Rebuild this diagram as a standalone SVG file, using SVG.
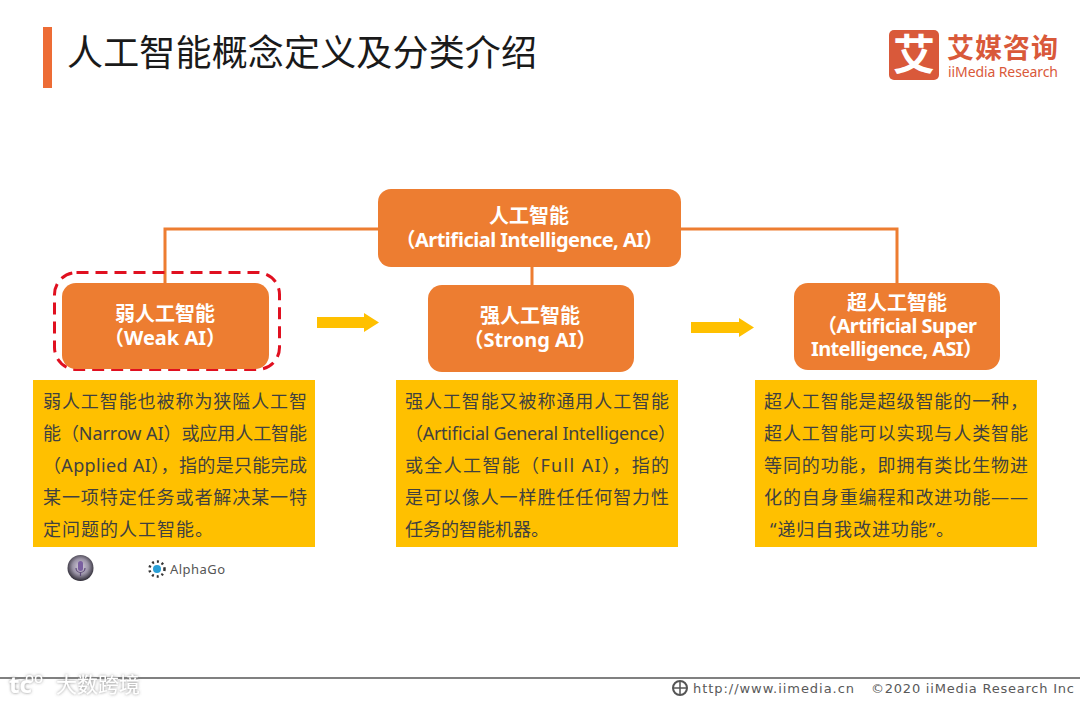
<svg xmlns="http://www.w3.org/2000/svg" width="1080" height="702" viewBox="0 0 1080 702">
<defs>
<radialGradient id="siriG" cx="50%" cy="45%" r="55%"><stop offset="0" stop-color="#d8d0e0"/><stop offset=".55" stop-color="#9a93a6"/><stop offset="1" stop-color="#2d2a34"/></radialGradient>
<filter id="glow" x="-10%" y="-30%" width="120%" height="160%"><feDropShadow dx="0" dy="0" stdDeviation="1.500" flood-color="#777" flood-opacity=".9"/></filter>
</defs>
<style>
text{font-family:"Noto Sans","Noto Sans CJK SC",sans-serif}
.n{fill:#ed7d31}
.nt{fill:#fff;font-size:20px;font-weight:700;text-anchor:middle}
.b{fill:#ffc000}
.bt{fill:#404040;font-size:18px}
.c{fill:none;stroke:#ed7d31;stroke-width:3}
.a{fill:#ffc000}
.f{fill:#595959;font-size:13px;font-family:"DejaVu Sans",sans-serif}
</style>
<rect width="1080" height="702" fill="#fff"/>
<rect x="43" y="27" width="9" height="61" fill="#ed6c35"/>
<text x="67" y="66" font-size="36" fill="#1a1a1a" textLength="470">人工智能概念定义及分类介绍</text>
<g id="logo">
<rect x="889" y="30" width="50" height="50" rx="5" fill="#d9593a"/>
<text x="914" y="70" font-size="42" font-weight="700" fill="#fff" text-anchor="middle">艾</text>
<text x="947" y="58" font-size="27" font-weight="700" fill="#d9593a" textLength="111">艾媒咨询</text>
<text x="948" y="77" font-size="14" fill="#d9593a" textLength="110">iiMedia Research</text>
</g>
<g id="connectors">
<path class="c" d="M165 283V229H378M681 229H897V283M532 267V285"/>
<path class="a" d="M317 317H364V313L379 322.500L364 332V328H317Z"/>
<path class="a" d="M691 322H739V318L754 327.500L739 337V333H691Z"/>
</g>
<g id="root">
<rect class="n" x="378" y="189" width="303" height="78" rx="13"/>
<text class="nt" x="529" y="223">人工智能</text>
<text class="nt" x="529.500" y="247" textLength="268">（Artificial Intelligence, AI）</text>
</g>
<g id="weak">
<rect x="54.500" y="272.500" width="225" height="97" rx="22" fill="none" stroke="#e01020" stroke-width="3" stroke-dasharray="12 7"/>
<rect class="n" x="62" y="283" width="207" height="86" rx="14"/>
<text class="nt" x="165" y="321">弱人工智能</text>
<text class="nt" x="165" y="345">（Weak AI）</text>
<rect class="b" x="33" y="380" width="282" height="167"/>
<g class="bt">
<text x="43" y="408" textLength="264">弱人工智能也被称为狭隘人工智</text>
<text x="43" y="440" textLength="264">能（Narrow AI）或应用人工智能</text>
<text x="43" y="472" textLength="264">（Applied AI），指的是只能完成</text>
<text x="43" y="504" textLength="264">某一项特定任务或者解决某一特</text>
<text x="43" y="536" textLength="170">定问题的人工智能。</text>
</g>
</g>
<g id="strong">
<rect class="n" x="428" y="285" width="206" height="87" rx="14"/>
<text class="nt" x="530" y="323">强人工智能</text>
<text class="nt" x="530" y="347">（Strong AI）</text>
<rect class="b" x="396" y="380" width="282" height="167"/>
<g class="bt">
<text x="405" y="408" textLength="264">强人工智能又被称通用人工智能</text>
<text x="405" y="440" textLength="271">（Artificial General Intelligence）</text>
<text x="405" y="472" textLength="264">或全人工智能（Full AI），指的</text>
<text x="405" y="504" textLength="264">是可以像人一样胜任任何智力性</text>
<text x="405" y="536">任务的智能机器。</text>
</g>
</g>
<g id="super">
<rect class="n" x="794" y="283" width="206" height="87" rx="14"/>
<text class="nt" x="897" y="310">超人工智能</text>
<text class="nt" x="897" y="333" textLength="160">（Artificial Super</text>
<text class="nt" x="897" y="356" textLength="172">Intelligence, ASI）</text>
<rect class="b" x="755" y="380" width="282" height="167"/>
<g class="bt">
<text x="764" y="408" textLength="264">超人工智能是超级智能的一种，</text>
<text x="764" y="440" textLength="264">超人工智能可以实现与人类智能</text>
<text x="764" y="472" textLength="264">等同的功能，即拥有类比生物进</text>
<text x="764" y="504" textLength="264">化的自身重编程和改进功能——</text>
<text x="770" y="536" textLength="184">“递归自我改进功能”。</text>
</g>
</g>
<g id="siri">
<circle cx="80.500" cy="568" r="13" fill="url(#siriG)"/>
<rect x="78" y="561" width="5" height="10" rx="2.500" fill="#7a5fa0"/>
<path d="M76 568a4.500 4.500 0 0 0 9 0M80.500 573v3" fill="none" stroke="#5c4a78" stroke-width="1.200"/>
</g>
<g id="alphago">
<circle cx="157" cy="569" r="7.500" fill="none" stroke="#333" stroke-width="2.500" stroke-dasharray="2 3"/>
<circle cx="157" cy="569" r="4" fill="#2a9fd6"/>
<text x="170" y="574" font-size="13" fill="#555" font-family="Liberation Sans,sans-serif" textLength="55">AlphaGo</text>
</g>
<g id="footer">
<rect y="677" width="1080" height="2" fill="#808080"/>
<g filter="url(#glow)" fill="#fff">
<text x="9" y="693" font-size="24" font-weight="700">tc</text>
<text x="25" y="683" font-size="15">oo</text>
<text x="56" y="692" font-size="21" textLength="84">大数跨境</text>
</g>
<circle cx="680" cy="688" r="7" fill="none" stroke="#555" stroke-width="2"/>
<path d="M673 688H687M680 681V695" stroke="#555" stroke-width="1.500"/>
<text class="f" x="693" y="693" textLength="161">http://www.iimedia.cn</text>
<text class="f" x="871" y="693" textLength="203">©2020  iiMedia Research  Inc</text>
</g>
</svg>
